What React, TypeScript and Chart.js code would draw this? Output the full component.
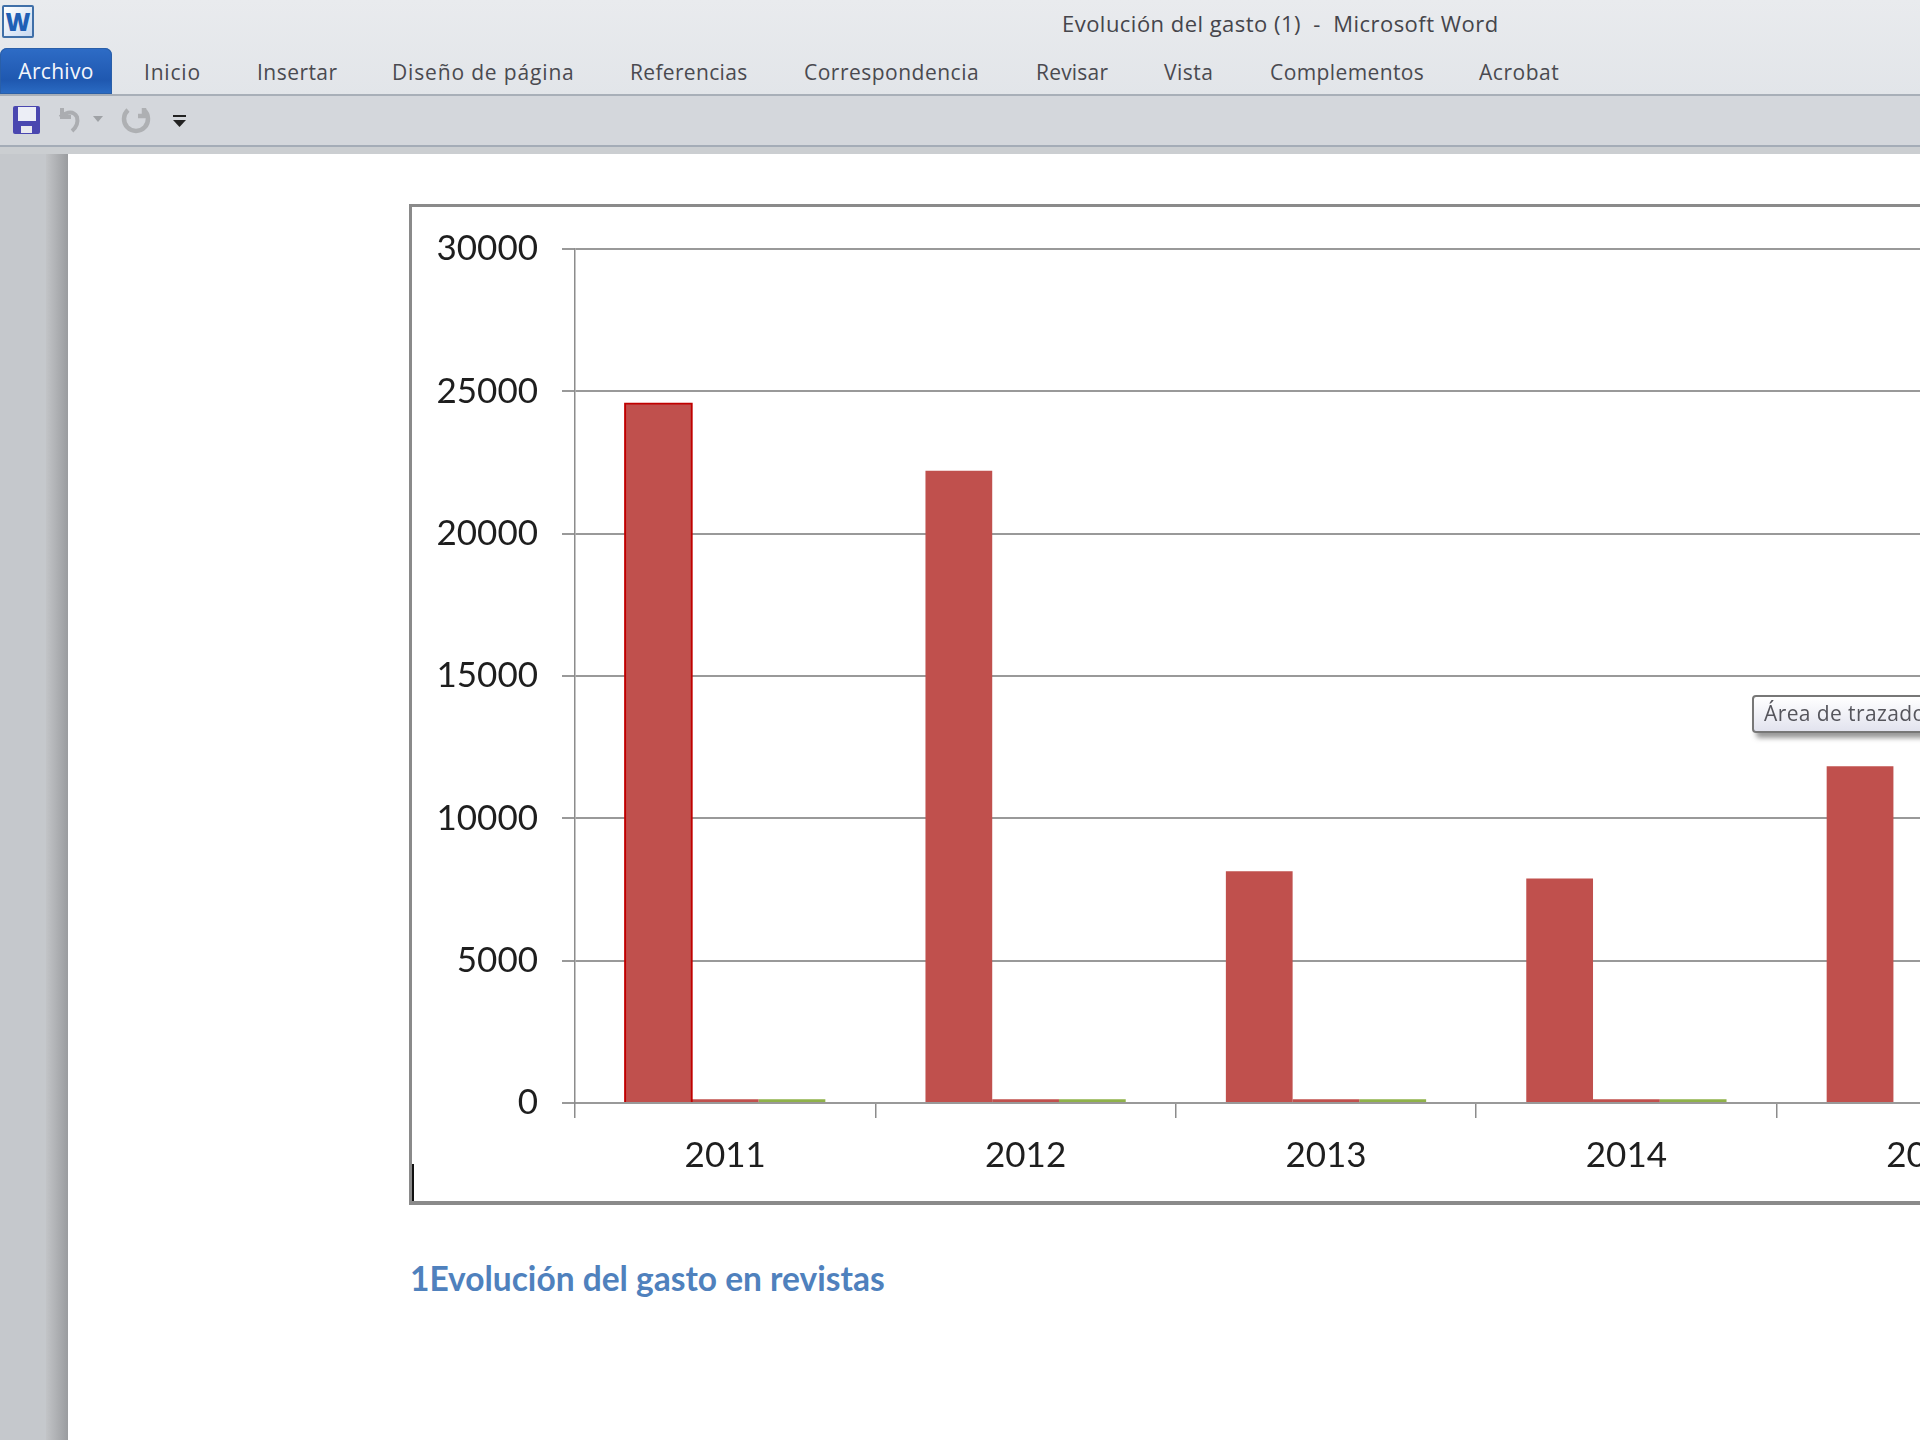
import React, { useEffect, useRef } from "react";
import { Chart, registerables } from "chart.js";

Chart.register(...registerables);

const categories = ["2011", "2012", "2013", "2014", "2015"];
const seriesA = [24570, 22210, 8140, 7890, 11830];
const seriesB = [130, 130, 130, 130, 0];
const seriesC = [130, 130, 130, 130, 0];
const seriesABorders = ["#C00000", "#C0504D", "#C0504D", "#C0504D", "#C0504D"];
const seriesABorderWidths = [2, 0, 0, 0, 0];
const seriesAInflate = [1, 0, 0, 0, 0];

const tabs: [string, number][] = [
  ["Inicio", 144],
  ["Insertar", 257],
  ["Diseño de página", 392],
  ["Referencias", 630],
  ["Correspondencia", 804],
  ["Revisar", 1036],
  ["Vista", 1164],
  ["Complementos", 1270],
  ["Acrobat", 1479],
];
const tabSpacing = [0.8, 0.46, 0.84, 0.33, 0.49, 0.2, 0.49, 0.4, 0.52];

const uiFont = '"Open Sans", sans-serif';
const chartFont = "Lato, sans-serif";

const abs = (left: number, top: number, width: number, height: number, extra: React.CSSProperties = {}): React.CSSProperties => ({
  position: "absolute",
  left,
  top,
  width,
  height,
  ...extra,
});

function ChartPanel() {
  const ref = useRef<HTMLCanvasElement>(null);
  useEffect(() => {
    const chart = new Chart(ref.current!, {
      type: "bar",
      data: {
        labels: categories,
        datasets: [
          {
            data: seriesA,
            backgroundColor: "#C0504D",
            borderColor: seriesABorders,
            borderWidth: seriesABorderWidths,
            inflateAmount: seriesAInflate,
          } as any,
          { data: seriesB, backgroundColor: "#C0504D", inflateAmount: 0 } as any,
          { data: seriesC, backgroundColor: "#8FB24A", inflateAmount: 0 } as any,
        ],
      },
      options: {
        animation: false,
        responsive: false,
        layout: { padding: 0 },
        datasets: { bar: { barPercentage: 1, categoryPercentage: 2 / 3 } },
        plugins: { legend: { display: false }, tooltip: { enabled: false }, title: { display: false } },
        scales: {
          x: {
            grid: { display: true, drawOnChartArea: false, drawTicks: true, tickLength: 15, color: "#8C8C8C", lineWidth: 1.5 },
            border: { color: "#999999", width: 2 },
            ticks: { color: "#1E1E1E", font: { family: chartFont, size: 35 }, padding: 17, maxRotation: 0, autoSkip: false },
            afterFit: (s: any) => { s.height = 98; },
          },
          y: {
            min: 0,
            max: 30000,
            grid: { color: "#999999", lineWidth: 2, tickLength: 13 },
            border: { color: "#8C8C8C", width: 1.5 },
            ticks: {
              stepSize: 5000,
              color: "#1E1E1E",
              font: { family: chartFont, size: 35 },
              padding: 24,
              callback: (v: any) => String(v),
            },
            afterFit: (s: any) => { s.width = 163; },
          },
        },
      },
    });
    return () => chart.destroy();
  }, []);
  return <canvas ref={ref} width={1665} height={997} style={{ position: "absolute", left: 412, top: 204, width: 1665, height: 997 }} />;
}

export default function App() {
  return (
    <div style={{ position: "fixed", left: 0, top: 0, width: 1920, height: 1440, overflow: "hidden", background: "#fff", filter: "blur(0.5px)" }}>
      {/* Title bar and ribbon tabs */}
      <div style={abs(0, 0, 1920, 95, { background: "linear-gradient(#E9EBEE,#E2E5E9)" })} />
      <div style={abs(0, 94, 1920, 2, { background: "#A8AFB8" })} />
      <div style={abs(0, 96, 1920, 49, { background: "#D4D7DC" })} />
      <div style={abs(0, 145, 1920, 2, { background: "#A4ACB7" })} />
      <div style={abs(0, 147, 1920, 7, { background: "#CBCED1" })} />

      <div style={abs(2, 5, 32, 33, { background: "linear-gradient(135deg,#fff,#C7D8F0)", border: "2px solid #3F6FA8", boxSizing: "border-box", borderRadius: 2, color: "#1F5FB5", fontFamily: uiFont, fontWeight: 800, fontSize: 24, lineHeight: "29px", textAlign: "center" })}>W</div>

      <div style={abs(0, 48, 112, 46, { background: "linear-gradient(#2E6CC6,#1F58B0 70%,#2B6CC4)", borderRadius: "7px 7px 0 0", boxShadow: "inset 0 0 0 1px #2A5FA8" })} />
      <div style={abs(0, 48, 112, 46, { color: "#F4F7FC", fontFamily: uiFont, fontSize: 21, lineHeight: "47px", textAlign: "center", letterSpacing: 0.3 })}>Archivo</div>

      {tabs.map(([label, left], i) => (
        <div key={label} style={{ position: "absolute", left, top: 56, lineHeight: "32px", fontFamily: uiFont, fontSize: 21, letterSpacing: tabSpacing[i], color: "#4A4A50", whiteSpace: "nowrap" }}>{label}</div>
      ))}
      <div style={{ position: "absolute", left: 1062, top: 6, lineHeight: "34px", fontFamily: uiFont, fontSize: 22, letterSpacing: 0.47, color: "#45454B", whiteSpace: "pre" }}>Evolución del gasto (1)  -  Microsoft Word</div>

      {/* Quick access toolbar */}
      <svg style={abs(0, 96, 220, 49)} viewBox="0 96 220 49">
        <rect x="13" y="106" width="27" height="28" rx="2" fill="#4A47B0" />
        <rect x="18" y="107" width="18" height="14" fill="#ECEEF6" />
        <rect x="21" y="126" width="11" height="7" fill="#E8E8EE" />
        <path d="M62 108 v9 h9 M60 117 q12 -9 17 0 q2 8 -5 14" fill="none" stroke="#ABADB1" strokeWidth="4" />
        <path d="M93 116 h10 l-5 6 z" fill="#9FA2A6" />
        <path d="M128 110 a12 12 0 1 0 16 0 M144 108 v8 h-6" fill="none" stroke="#AEB0B3" strokeWidth="4.5" />
        <rect x="173" y="115" width="13" height="2" fill="#222" />
        <path d="M173 120 h13 l-6.5 7 z" fill="#222" />
      </svg>

      {/* Left gutter */}
      <div style={abs(0, 154, 46, 1286, { background: "#C5C8CC" })} />
      <div style={abs(46, 154, 22, 1286, { background: "linear-gradient(90deg,#C2C4C7,#9A9C9F)" })} />

      {/* Chart frame */}
      <div style={abs(409, 204, 1511, 1001, { borderLeft: "3px solid #8A8A8A", borderTop: "3px solid #8A8A8A", borderBottom: "4px solid #8A8A8A", boxSizing: "border-box", background: "#fff" })} />
      <ChartPanel />
      <div style={abs(412, 1164, 2, 37, { background: "#111" })} />

      {/* Tooltip */}
      <div style={abs(1752, 695, 200, 38, { border: "2px solid #777", borderRadius: 4, boxSizing: "border-box", background: "linear-gradient(#fff,#E2E3EE)", boxShadow: "4px 5px 5px rgba(70,70,70,0.55)", fontFamily: uiFont, fontSize: 21, letterSpacing: 0.4, lineHeight: "32px", color: "#55555C", paddingLeft: 10, whiteSpace: "nowrap" })}>Área de trazado</div>

      {/* Caption */}
      <div style={{ position: "absolute", left: 410, top: 1258, lineHeight: "40px", fontFamily: chartFont, fontWeight: 700, fontSize: 33.5, color: "#4F81BD", whiteSpace: "nowrap" }}>1Evolución del gasto en revistas</div>
    </div>
  );
}
